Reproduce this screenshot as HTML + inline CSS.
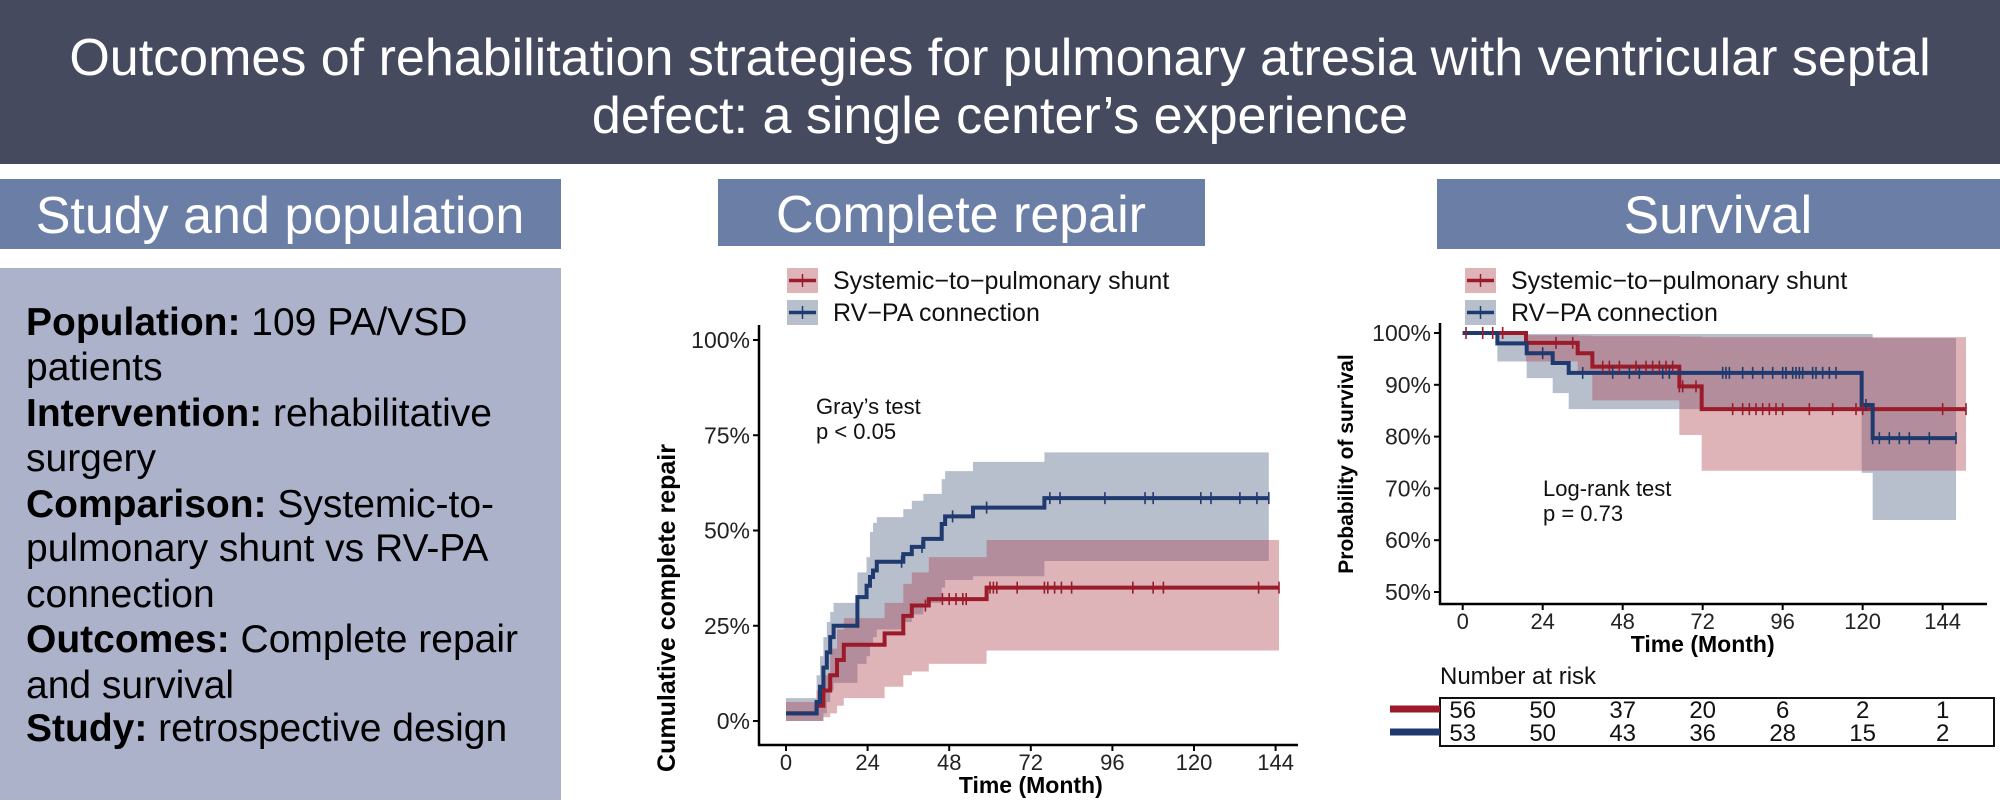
<!DOCTYPE html>
<html><head><meta charset="utf-8">
<style>
html,body{margin:0;padding:0;background:#fff;}
body{width:2000px;height:800px;overflow:hidden;position:relative;font-family:"Liberation Sans",Arial,sans-serif;}
svg text{font-family:"Liberation Sans",Arial,sans-serif;}
</style></head>
<body>
<svg id="root" width="2000" height="800" viewBox="0 0 2000 800" xmlns="http://www.w3.org/2000/svg">
  <rect x="0" y="0" width="2000" height="164" fill="#464A5F"/>
  <text x="1000" y="75" text-anchor="middle" font-size="52" fill="#fff">Outcomes of rehabilitation strategies for pulmonary atresia with ventricular septal</text>
  <text x="1000" y="133" text-anchor="middle" font-size="52" fill="#fff">defect: a single center’s experience</text>

  <rect x="0" y="179" width="561" height="70" fill="#6B7FA6"/>
  <text x="280" y="233" text-anchor="middle" font-size="52" fill="#fff">Study and population</text>
  <rect x="718" y="179" width="487" height="67" fill="#6B7FA6"/>
  <text x="961" y="232" text-anchor="middle" font-size="52" fill="#fff">Complete repair</text>
  <rect x="1437" y="179" width="563" height="70" fill="#6B7FA6"/>
  <text x="1718" y="233" text-anchor="middle" font-size="53" fill="#fff">Survival</text>

  <rect x="0" y="268" width="561" height="532" fill="#ADB2CB"/>
  <g font-size="39" fill="#000">
    <text x="26" y="335"><tspan font-weight="bold">Population:</tspan> 109 PA/VSD</text>
    <text x="26" y="380">patients</text>
    <text x="26" y="426"><tspan font-weight="bold">Intervention:</tspan> rehabilitative</text>
    <text x="26" y="471">surgery</text>
    <text x="26" y="517"><tspan font-weight="bold">Comparison:</tspan> Systemic-to-</text>
    <text x="26" y="561">pulmonary shunt vs RV-PA</text>
    <text x="26" y="607">connection</text>
    <text x="26" y="652"><tspan font-weight="bold">Outcomes:</tspan> Complete repair</text>
    <text x="26" y="698">and survival</text>
    <text x="26" y="741"><tspan font-weight="bold">Study:</tspan> retrospective design</text>
  </g>

  <g id="chart1"></g>
  <g id="chart2"></g>
</svg>
<script>
// ---------- Complete repair chart data ----------
const crXTicks = [0, 24, 48, 72, 96, 120, 144];
const crYTicks = [0, 25, 50, 75, 100];
const crRedT = [0, 9, 11, 13, 15, 17, 29, 34.5, 37, 42, 59];
const crRedV = [2, 4, 8, 12, 16, 20, 23, 27.6, 30.3, 32, 35];
const crRedUp = [5, 8, 12, 19, 24, 27, 31, 36, 39, 43, 47.5];
const crRedLo = [0, 0, 1, 2, 4, 6, 9, 12, 13, 15, 18.5];
const crRedEnd = 145;
const crRedCensor = [41, 46, 48, 50, 52, 53, 60, 61, 62, 68, 76, 77, 79, 81, 84, 102, 108, 111, 139, 145];
const crBlueT = [0, 9, 10, 11, 12, 13, 14, 21, 23.7, 24.7, 25.6, 26.7, 34.5, 37, 40.4, 45.8, 46.8, 55, 76];
const crBlueV = [2, 5, 9, 14, 18, 22, 25, 32.5, 35.5, 37.8, 39.5, 41.8, 43.8, 45.7, 47.8, 51.7, 53.7, 56, 58.5];
const crBlueUp = [6, 12, 17, 22, 26, 28.6, 31, 39, 43, 49.6, 52, 53.5, 55.6, 57.8, 59.6, 63.5, 65.6, 68, 70.5];
const crBlueLo = [0, 0, 0, 2, 5, 8, 10, 15, 17, 20, 22, 24, 26, 28, 31, 35, 37, 38, 42];
const crBlueEnd = 142;
const crBlueCensor = [34, 40, 49, 59, 77.6, 80.6, 93.8, 105.6, 108, 122, 125, 133.5, 138.5, 142];

// ---------- Survival chart data ----------
const svXTicks = [0, 24, 48, 72, 96, 120, 144];
const svYTicks = [50, 60, 70, 80, 90, 100];
const svRedT = [0, 19, 34.5, 38.9, 65, 71.7];
const svRedV = [100, 98.1, 96.1, 93.5, 89.7, 85.3];
const svRedUp = [99.7, 99.6, 99.5, 99.4, 99.3, 99.2];
const svRedLo = [100, 94.5, 92, 87, 80.3, 73.4];
const svRedEnd = 151;
const svRedCensor = [1, 6, 9, 12, 28, 33, 42, 44, 47, 52, 55, 57, 59, 61, 63, 65, 66, 70, 81, 84, 86, 88, 90, 92, 94, 96, 104, 111, 118, 120, 144, 151];
const svBlueT = [0, 10.4, 19.2, 27, 31.8, 119.7, 123];
const svBlueV = [100, 98, 96.1, 94.2, 92.3, 86.1, 79.7];
const svBlueUp = [100, 99.8, 99.8, 99.8, 99.8, 99.8, 99];
const svBlueLo = [100, 94.5, 91.3, 88.4, 85.3, 73, 63.9];
const svBlueEnd = 148;
const svBlueCensor = [24, 36, 45, 50, 53, 60, 62, 78, 79, 80, 84, 87, 90, 93, 96, 97, 99, 100, 101, 102, 105, 106, 108, 110, 112, 121, 123, 125, 128, 131, 134, 140, 148];
const riskRed = [56, 50, 37, 20, 6, 2, 1];
const riskBlue = [53, 50, 43, 36, 28, 15, 2];

const NS = 'http://www.w3.org/2000/svg';
const RED = '#9B1B2A', BLUE = '#1F3A6E';
function mk(tag, attrs, parent) {
  const e = document.createElementNS(NS, tag);
  for (const k in attrs) e.setAttribute(k, attrs[k]);
  parent.appendChild(e);
  return e;
}
function stepPath(T, V, end, sx, sy) {
  let d = 'M' + sx(T[0]) + ',' + sy(V[0]);
  for (let i = 1; i < T.length; i++) d += 'H' + sx(T[i]) + 'V' + sy(V[i]);
  d += 'H' + sx(end);
  return d;
}
function bandPath(T, U, L, end, sx, sy) {
  let d = 'M' + sx(T[0]) + ',' + sy(U[0]);
  for (let i = 1; i < T.length; i++) d += 'H' + sx(T[i]) + 'V' + sy(U[i]);
  d += 'H' + sx(end) + 'V' + sy(L[L.length - 1]);
  for (let i = T.length - 1; i >= 1; i--) d += 'H' + sx(T[i]) + 'V' + sy(L[i - 1]);
  d += 'H' + sx(T[0]) + 'Z';
  return d;
}
function valAt(T, V, t) { let v = V[0]; for (let i = 0; i < T.length; i++) if (T[i] <= t) v = V[i]; return v; }

function drawChart(g, cfg) {
  const sx = t => cfg.x0 + t * cfg.kx;
  const sy = v => cfg.y0 - (v - cfg.vmin) * cfg.ky;
  let e = mk('path', {d: bandPath(cfg.bT, cfg.bU, cfg.bL, cfg.bEnd, sx, sy), fill: 'rgb(112,128,156)', 'fill-opacity': 0.5}, g);
  
  
  e = mk('path', {d: bandPath(cfg.rT, cfg.rU, cfg.rL, cfg.rEnd, sx, sy), fill: 'rgb(172,67,80)', 'fill-opacity': 0.4}, g);
  
  
  e = mk('path', {d: stepPath(cfg.rT, cfg.rV, cfg.rEnd, sx, sy), fill: 'none', stroke: RED, 'stroke-width': 4}, g);
  
  
  e = mk('path', {d: stepPath(cfg.bT, cfg.bV, cfg.bEnd, sx, sy), fill: 'none', stroke: BLUE, 'stroke-width': 4}, g);
  
  
  cfg.rC.forEach(t => {
    const y = sy(valAt(cfg.rT, cfg.rV, t));
    const c = mk('line', {x1: sx(t), x2: sx(t), y1: y - 6, y2: y + 6, stroke: RED, 'stroke-width': 1.6}, g);
    
    
  });
  cfg.bC.forEach(t => {
    const y = sy(valAt(cfg.bT, cfg.bV, t));
    const c = mk('line', {x1: sx(t), x2: sx(t), y1: y - 6, y2: y + 6, stroke: BLUE, 'stroke-width': 1.6}, g);
    
    
  });
  e = mk('line', {x1: cfg.ax, x2: cfg.ax, y1: cfg.axTop, y2: cfg.axY + 1, stroke: '#000', 'stroke-width': 2.5}, g);
  
  
  e = mk('line', {x1: cfg.ax - 1, x2: cfg.axRight, y1: cfg.axY, y2: cfg.axY, stroke: '#000', 'stroke-width': 2.5}, g);
  
  
  cfg.yTicks.forEach(v => {
    const y = sy(v);
    const l = mk('line', {x1: cfg.ax - 6, x2: cfg.ax, y1: y, y2: y, stroke: '#000', 'stroke-width': 2}, g);
    
    
    const t = mk('text', {x: cfg.ax - 9, y: y + 8, 'text-anchor': 'end', 'font-size': 23, fill: '#222'}, g);
    t.textContent = v + '%';
    
    
  });
  cfg.xTicks.forEach(v => {
    const x = sx(v);
    const l = mk('line', {x1: x, x2: x, y1: cfg.axY, y2: cfg.axY + 6, stroke: '#000', 'stroke-width': 2}, g);
    
    
    const t = mk('text', {x: x, y: cfg.axY + 25, 'text-anchor': 'middle', 'font-size': 22, fill: '#222'}, g);
    t.textContent = v;
    
    
  });
  e = mk('text', {x: (sx(0) + sx(144)) / 2, y: cfg.axY + 48, 'text-anchor': 'middle', 'font-size': 23, 'font-weight': 'bold', fill: '#000'}, g);
  e.textContent = 'Time (Month)';
  
  
  e = mk('text', {x: 0, y: 0, 'text-anchor': 'middle', 'font-size': cfg.ytSize, 'font-weight': 'bold', fill: '#000', transform: 'translate(' + cfg.ytX + ',' + cfg.ytY + ') rotate(-90)'}, g);
  e.textContent = cfg.yTitle;
  
  
  const items = [['Systemic\u2212to\u2212pulmonary shunt', RED, 'rgb(172,67,80)', 0.4], ['RV\u2212PA connection', BLUE, 'rgb(112,128,156)', 0.5]];
  items.forEach((it, i) => {
    const ly = cfg.legY + i * 32;
    const r = mk('rect', {x: cfg.legX, y: ly, width: 31, height: 25, fill: it[2], 'fill-opacity': it[3]}, g);
    
    
    mk('line', {x1: cfg.legX + 2, x2: cfg.legX + 29, y1: ly + 12.5, y2: ly + 12.5, stroke: it[1], 'stroke-width': 3.5}, g);
    mk('line', {x1: cfg.legX + 15.5, x2: cfg.legX + 15.5, y1: ly + 6, y2: ly + 19, stroke: it[1], 'stroke-width': 1.5}, g);
    const t = mk('text', {x: cfg.legX + 46, y: ly + 21, 'font-size': 25, fill: '#111'}, g);
    t.textContent = it[0];
    
    
  });
  cfg.note.forEach((s, i) => {
    const t = mk('text', {x: cfg.noteX, y: cfg.noteY + i * 25, 'font-size': 22, fill: '#111'}, g);
    t.textContent = s;
    
    
  });
  return {sx, sy};
}

drawChart(document.getElementById('chart1'), {
  x0: 786, kx: 3.4, y0: 721, ky: 3.81, vmin: 0,
  rT: crRedT, rV: crRedV, rU: crRedUp, rL: crRedLo, rEnd: crRedEnd, rC: crRedCensor,
  bT: crBlueT, bV: crBlueV, bU: crBlueUp, bL: crBlueLo, bEnd: crBlueEnd, bC: crBlueCensor,
  ax: 759, axTop: 325, axY: 745, axRight: 1298,
  yTicks: crYTicks, xTicks: crXTicks,
  ytX: 675, ytY: 608, ytSize: 25, yTitle: 'Cumulative complete repair',
  legX: 787, legY: 268,
  noteX: 816, noteY: 414, note: ['Gray\u2019s test', 'p < 0.05']
});
const sv = drawChart(document.getElementById('chart2'), {
  x0: 1462.7, kx: 3.333, y0: 592, ky: 5.18, vmin: 50,
  rT: svRedT, rV: svRedV, rU: svRedUp, rL: svRedLo, rEnd: svRedEnd, rC: svRedCensor,
  bT: svBlueT, bV: svBlueV, bU: svBlueUp, bL: svBlueLo, bEnd: svBlueEnd, bC: svBlueCensor,
  ax: 1440, axTop: 323, axY: 604, axRight: 1987,
  yTicks: svYTicks, xTicks: svXTicks,
  ytX: 1353, ytY: 464, ytSize: 21, yTitle: 'Probability of survival',
  legX: 1465, legY: 268,
  noteX: 1543, noteY: 496, note: ['Log-rank test', 'p = 0.73']
});

const g2 = document.getElementById('chart2');
let e = mk('text', {x: 1440, y: 684, 'font-size': 24, fill: '#111'}, g2);
e.textContent = 'Number at risk';


e = mk('rect', {x: 1440, y: 698, width: 554, height: 48, fill: 'none', stroke: '#111', 'stroke-width': 2}, g2);


e = mk('line', {x1: 1390, x2: 1440, y1: 709, y2: 709, stroke: RED, 'stroke-width': 7}, g2);


e = mk('line', {x1: 1390, x2: 1440, y1: 732, y2: 732, stroke: BLUE, 'stroke-width': 7}, g2);


svXTicks.forEach((t, i) => {
  const x = sv.sx(t);
  let c = mk('text', {x: x, y: 718, 'text-anchor': 'middle', 'font-size': 24, fill: '#111'}, g2);
  c.textContent = riskRed[i];
  
  
  c = mk('text', {x: x, y: 741, 'text-anchor': 'middle', 'font-size': 24, fill: '#111'}, g2);
  c.textContent = riskBlue[i];
  
  
});
</script>
</body></html>
